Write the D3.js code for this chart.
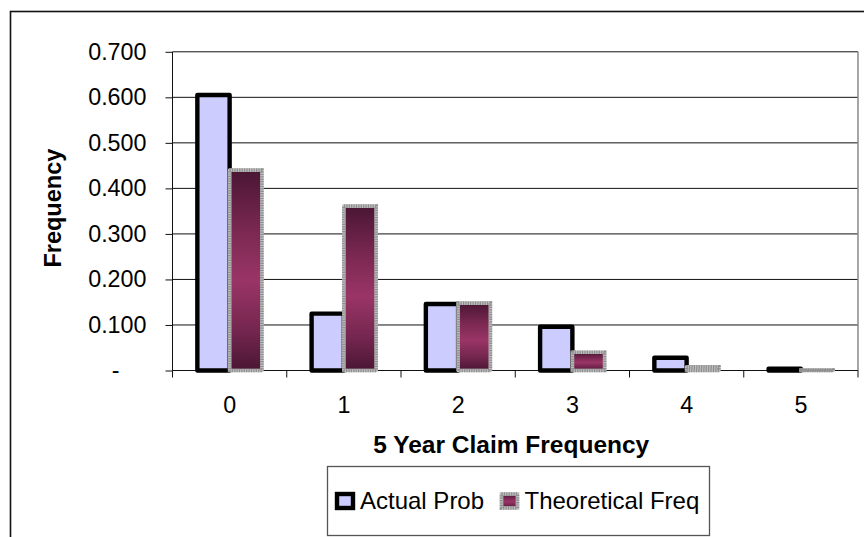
<!DOCTYPE html>
<html>
<head>
<meta charset="utf-8">
<script src="https://cdn.jsdelivr.net/npm/d3@7"></script>
<style>
  html, body { margin: 0; padding: 0; background: #fff; }
  svg { display: block; font-family: "Liberation Sans", Arial, sans-serif; }
</style>
</head>
<body>
<svg id="chart" width="864" height="537"></svg>
<script>
// Claim counts over five years: observed share vs. fitted Poisson share
const categories = ["0", "1", "2", "3", "4", "5"];
const seriesNames = ["Actual Prob", "Theoretical Freq"];
const actualProb = [0.605, 0.125, 0.146, 0.096, 0.028, 0.004];
const theoreticalFreq = [0.440, 0.361, 0.148, 0.040, 0.008, 0.001];
const yTicks = [0, 0.1, 0.2, 0.3, 0.4, 0.5, 0.6, 0.7];
const xTitle = "5 Year Claim Frequency";
const yTitle = "Frequency";

const svg = d3.select("#chart");
const plot = { left: 172.5, right: 858, top: 51.8, bottom: 370.5 };

// chart frame (runs off the right and bottom edges)
svg.append("rect")
  .attr("x", 10.5).attr("y", 11.5)
  .attr("width", 1000).attr("height", 1000)
  .attr("fill", "#fff").attr("stroke", "#111").attr("stroke-width", 1.6);

const x0 = d3.scaleBand()
  .domain(categories)
  .range([plot.left, plot.right])
  .paddingInner(0.435)
  .paddingOuter(0.2175);
const x1 = d3.scaleBand()
  .domain(seriesNames)
  .range([0, x0.bandwidth()]);
const y = d3.scaleLinear().domain([0, 0.7]).range([plot.bottom, plot.top]);

// gradient for the fitted bars: dark at the ends, lighter in the middle
const defs = svg.append("defs");
const grad = defs.append("linearGradient")
  .attr("id", "theoGrad")
  .attr("x1", 0).attr("y1", 0).attr("x2", 0).attr("y2", 1);
[[0, "#4a1634"], [0.3, "#7a2852"], [0.55, "#9a3566"], [0.8, "#74264f"], [1, "#4a1634"]]
  .forEach(([o, c]) => grad.append("stop").attr("offset", o).attr("stop-color", c));

// horizontal gridlines
svg.append("g").selectAll("line")
  .data(yTicks.filter(d => d > 0))
  .join("line")
  .attr("x1", plot.left).attr("x2", plot.right)
  .attr("y1", d => y(d)).attr("y2", d => y(d))
  .attr("stroke", "#111").attr("stroke-width", 1);

// plot area right edge
svg.append("line")
  .attr("x1", plot.right).attr("x2", plot.right)
  .attr("y1", y(0.7)).attr("y2", y(0))
  .attr("stroke", "#8a8a8a").attr("stroke-width", 1.5);

// y axis with outward ticks
const yAxis = svg.append("g")
  .attr("transform", `translate(${plot.left},0)`)
  .call(d3.axisLeft(y).tickValues(yTicks).tickSize(7).tickFormat(d => d === 0 ? "-" : d3.format(".3f")(d)));
yAxis.select(".domain").attr("stroke", "#111").attr("d", `M0,${y(0.7)}V${y(0)}`);
yAxis.selectAll(".tick line").attr("stroke", "#111");
yAxis.selectAll(".tick text")
  .attr("x", -26)
  .attr("font-size", 23.3)
  .attr("font-family", "Liberation Sans, Arial, sans-serif")
  .attr("fill", "#000")
  .attr("dx", d => d === 0 ? -27 : 0);

// x axis: baseline, ticks between categories, labels centred
const xg = svg.append("g");
xg.append("line")
  .attr("x1", plot.left).attr("x2", plot.right)
  .attr("y1", y(0)).attr("y2", y(0))
  .attr("stroke", "#111").attr("stroke-width", 1);
const boundaries = d3.range(categories.length + 1).map(i => plot.left + i * x0.step());
xg.selectAll("line.tick")
  .data(boundaries)
  .join("line")
  .attr("class", "tick")
  .attr("x1", d => d).attr("x2", d => d)
  .attr("y1", y(0)).attr("y2", y(0) + 7)
  .attr("stroke", "#111");
xg.selectAll("text")
  .data(categories)
  .join("text")
  .attr("x", d => x0(d) + x0.bandwidth() / 2)
  .attr("y", 413)
  .attr("text-anchor", "middle")
  .attr("font-size", 23.3)
  .text(d => d);

// bars
const seriesData = [
  { name: seriesNames[0], values: actualProb, fill: "#ccccff", stroke: "#000", sw: 4.4, dash: null },
  { name: seriesNames[1], values: theoreticalFreq, fill: "url(#theoGrad)", stroke: "#bdbdbd", sw: 3.6, dash: "1.2,1.2" }
];
seriesData.forEach(s => {
  const g = svg.append("g");
  const rows = categories.map((c, i) => ({ c, v: s.values[i] }));
  g.selectAll("rect.bar")
    .data(rows)
    .join("rect")
    .attr("class", "bar")
    .attr("x", d => x0(d.c) + x1(s.name))
    .attr("y", d => y(d.v))
    .attr("width", x1.bandwidth())
    .attr("height", d => y(0) - y(d.v))
    .attr("fill", s.fill)
    .attr("stroke", s.stroke)
    .attr("stroke-width", s.sw)
    .attr("stroke-linejoin", "round");
  if (s.dash) {
    // dotted grey texture over the light grey border
    g.selectAll("rect.dots")
      .data(rows)
      .join("rect")
      .attr("class", "dots")
      .attr("x", d => x0(d.c) + x1(s.name))
      .attr("y", d => y(d.v))
      .attr("width", x1.bandwidth())
      .attr("height", d => y(0) - y(d.v))
      .attr("fill", "none")
      .attr("stroke", "#8f8f8f")
      .attr("stroke-width", s.sw)
      .attr("stroke-dasharray", s.dash);
  }
});

// axis titles
svg.append("text")
  .attr("x", (plot.left + plot.right) / 2 - 4)
  .attr("y", 453)
  .attr("text-anchor", "middle")
  .attr("font-size", 24.5)
  .attr("font-weight", "bold")
  .text(xTitle);
svg.append("text")
  .attr("transform", `translate(61,${(plot.top + plot.bottom) / 2 - 3}) rotate(-90)`)
  .attr("text-anchor", "middle")
  .attr("font-size", 23.5)
  .attr("font-weight", "bold")
  .text(yTitle);

// legend
const legend = svg.append("g");
legend.append("rect")
  .attr("x", 327.5).attr("y", 466.5)
  .attr("width", 382).attr("height", 69)
  .attr("fill", "#fff").attr("stroke", "#555").attr("stroke-width", 1.3);
const legendX = [337, 501.5];
seriesData.forEach((s, i) => {
  legend.append("rect")
    .attr("x", legendX[i]).attr("y", 494)
    .attr("width", 16).attr("height", 14)
    .attr("fill", s.fill)
    .attr("stroke", s.stroke)
    .attr("stroke-width", s.sw);
  if (s.dash) {
    legend.append("rect")
      .attr("x", legendX[i]).attr("y", 494)
      .attr("width", 16).attr("height", 14)
      .attr("fill", "none")
      .attr("stroke", "#8f8f8f")
      .attr("stroke-width", s.sw)
      .attr("stroke-dasharray", s.dash);
  }
  legend.append("text")
    .attr("x", legendX[i] + 23)
    .attr("y", 508.5)
    .attr("font-size", 24)
    .text(s.name);
});
</script>
</body>
</html>
